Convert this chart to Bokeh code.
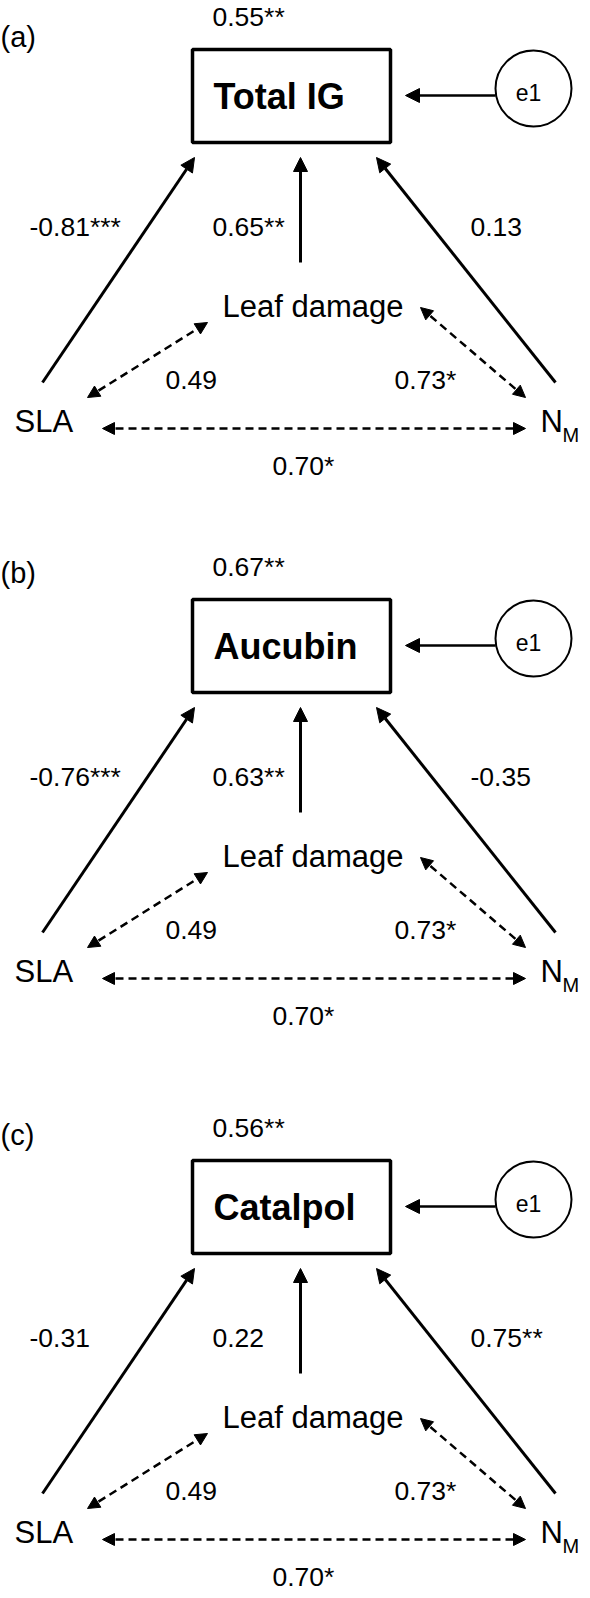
from bokeh.plotting import figure
from bokeh.models import Range1d, Arrow, NormalHead
from bokeh.core.properties import value
from bokeh.embed import file_html
from bokeh.resources import INLINE

# ---------------- data ----------------
panel_labels = ["(a)", "(b)", "(c)"]
responses = ["Total IG", "Aucubin", "Catalpol"]
r2_values = ["0.55**", "0.67**", "0.56**"]
sla_coef = ["-0.81***", "-0.76***", "-0.31"]
leaf_coef = ["0.65**", "0.63**", "0.22"]
nm_coef = ["0.13", "-0.35", "0.75**"]
cor_sla_leaf = ["0.49", "0.49", "0.49"]
cor_leaf_nm = ["0.73*", "0.73*", "0.73*"]
cor_sla_nm = ["0.70*", "0.70*", "0.70*"]
error_term = ["e1", "e1", "e1"]

# ---------------- layout ----------------
FONT = "Liberation Sans"
W, H = 582, 1590
panel_offset = [0, 550, 1111]
label_y = [44, 30, 31]

p = figure(width=W, height=H, x_range=Range1d(0, W), y_range=Range1d(H, 0),
           output_backend="svg", toolbar_location=None, min_border=0,
           x_axis_location=None, y_axis_location=None)
p.grid.visible = False
p.outline_line_color = None
p.background_fill_color = "white"
p.border_fill_color = "white"


def X(x):
    return x - 8


def Y(y, k):
    return y + panel_offset[k] - 8


def txt(xs, ys, texts, size, style="normal", align="left"):
    p.text(x=xs, y=ys, text=texts, text_font=value(FONT), text_font_size=size,
           text_font_style=style, text_align=align, text_baseline="middle",
           text_color="black")


def arrow(x0, y0, x1, y1, width=3, dashed=False, both=False, hs=13):
    kw = dict(line_color="black", line_width=width)
    if dashed:
        kw["line_dash"] = "8 5"
    end = NormalHead(size=hs, fill_color="black", line_color="black", line_width=1)
    start = NormalHead(size=hs, fill_color="black", line_color="black", line_width=1) if both else None
    p.add_layout(Arrow(x_start=x0, y_start=y0, x_end=x1, y_end=y1, end=end, start=start, **kw))


n = len(panel_labels)
ks = range(n)

# boxes
p.quad(left=[X(200)] * n, right=[X(398)] * n,
       top=[Y(57, k) for k in ks], bottom=[Y(150, k) for k in ks],
       fill_color=None, line_color="black", line_width=3.5)
# error circles
p.circle(x=[X(541)] * n, y=[Y(96, k) for k in ks], radius=38,
         fill_color="white", line_color="black", line_width=2)

for k in ks:
    # e1 -> box
    arrow(X(503), Y(103, k), X(413), Y(103, k), width=2.5, hs=14)
    # paths
    arrow(X(50), Y(390, k), X(202), Y(165, k), width=3, hs=14)
    arrow(X(308), Y(270, k), X(308), Y(165, k), width=3, hs=14)
    arrow(X(563), Y(390, k), X(384), Y(165, k), width=3, hs=14)
    # correlations
    arrow(X(95), Y(405, k), X(215), Y(330, k), width=2.5, dashed=True, both=True, hs=12)
    arrow(X(428), Y(315, k), X(533), Y(405, k), width=2.5, dashed=True, both=True, hs=12)
    arrow(X(110), Y(436, k), X(533), Y(436, k), width=2.5, dashed=True, both=True, hs=12)

# texts
txt([X(8)] * n, [Y(label_y[k], k) for k in ks], panel_labels, "29px")
txt([X(220)] * n, [Y(24, k) for k in ks], r2_values, "26.5px")
txt([X(221)] * n, [Y(104, k) for k in ks], responses, "36px", style="bold")
txt([X(536)] * n, [Y(100, k) for k in ks], error_term, "23px", align="center")
txt([X(37)] * n, [Y(234, k) for k in ks], sla_coef, "26.5px")
txt([X(220)] * n, [Y(234, k) for k in ks], leaf_coef, "26.5px")
txt([X(478)] * n, [Y(234, k) for k in ks], nm_coef, "26.5px")
txt([X(230)] * n, [Y(314, k) for k in ks], ["Leaf damage"] * n, "31px")
txt([X(22)] * n, [Y(429, k) for k in ks], ["SLA"] * n, "31px")
txt([X(548)] * n, [Y(429, k) for k in ks], ["N"] * n, "31px")
txt([X(570)] * n, [Y(442, k) for k in ks], ["M"] * n, "20px")
txt([X(173)] * n, [Y(387, k) for k in ks], cor_sla_leaf, "26.5px")
txt([X(402)] * n, [Y(387, k) for k in ks], cor_leaf_nm, "26.5px")
txt([X(280)] * n, [Y(473, k) for k in ks], cor_sla_nm, "26.5px")

open("out.html", "w").write(file_html(p, INLINE))
